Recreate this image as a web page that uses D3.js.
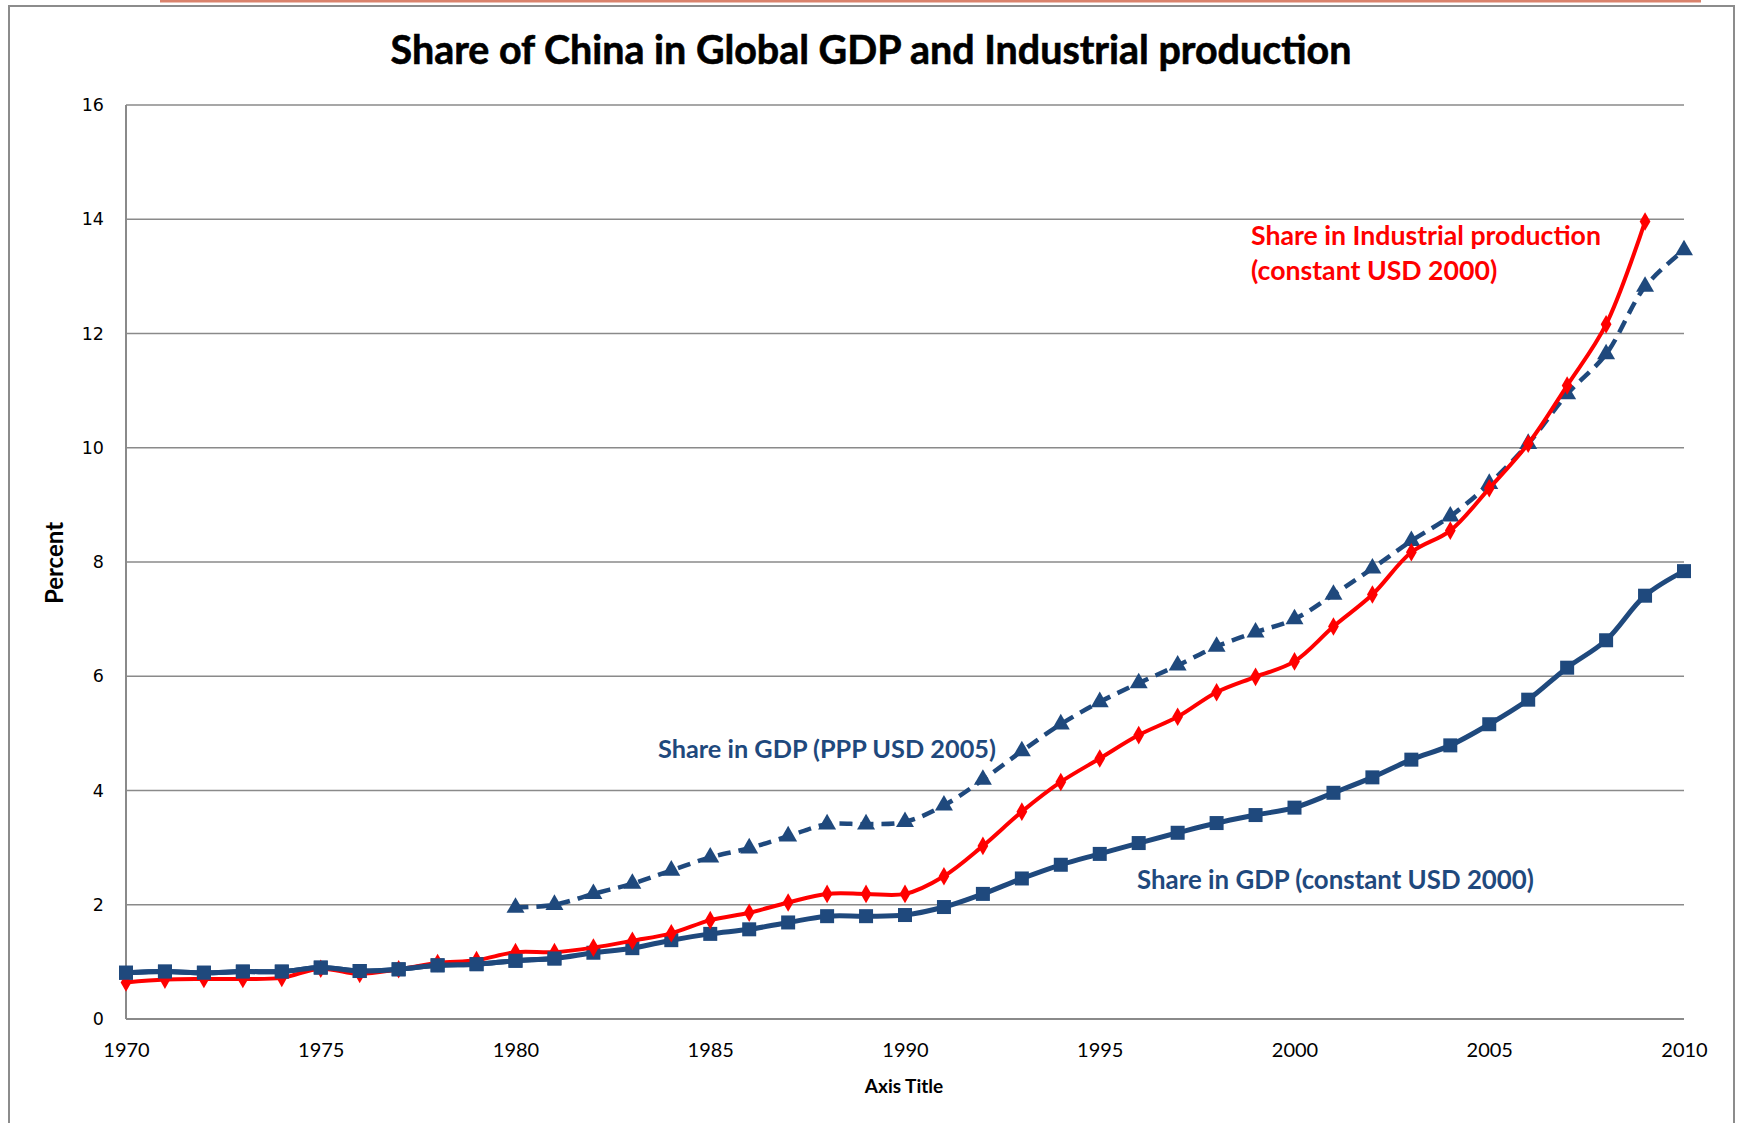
<!DOCTYPE html>
<html>
<head>
<meta charset="utf-8">
<script src="https://cdn.jsdelivr.net/npm/d3@7"></script>
<style>
  html, body { margin: 0; padding: 0; background: #fff; }
  svg { display: block; }
</style>
</head>
<body>
<script>
// ---------- DATA ----------
const years = d3.range(1970, 2011);
const industrialShare = [0.64,0.69,0.70,0.70,0.72,0.88,0.79,0.87,0.98,1.03,
  1.17,1.17,1.25,1.37,1.50,1.73,1.86,2.04,2.19,2.19,
  2.19,2.50,3.03,3.63,4.15,4.56,4.97,5.29,5.72,5.99,
  6.26,6.87,7.43,8.17,8.55,9.29,10.07,11.09,12.16,13.96,null];
const gdpConstantShare = [0.81,0.83,0.81,0.83,0.83,0.90,0.84,0.87,0.94,0.96,
  1.02,1.06,1.16,1.24,1.38,1.49,1.57,1.69,1.80,1.80,
  1.82,1.96,2.19,2.46,2.70,2.89,3.08,3.26,3.43,3.57,
  3.70,3.96,4.23,4.54,4.79,5.16,5.59,6.15,6.63,7.41,7.84];
const gdpPPPShare = [null,null,null,null,null,null,null,null,null,null,
  1.95,2.00,2.19,2.37,2.60,2.83,2.99,3.20,3.41,3.41,
  3.45,3.74,4.19,4.69,5.16,5.55,5.88,6.19,6.52,6.77,
  7.00,7.43,7.89,8.37,8.80,9.37,10.07,10.94,11.64,12.82,13.46];
const yTicks = [0,2,4,6,8,10,12,14,16];
const xTicks = [1970,1975,1980,1985,1990,1995,2000,2005,2010];
const titleText = "Share of China in Global GDP and Industrial production";
const xAxisTitle = "Axis Title";
const yAxisTitle = "Percent";
const labelIndustrial = ["Share in Industrial production", "(constant USD 2000)"];
const labelPPP = "Share in GDP (PPP USD 2005)";
const labelConstant = "Share in GDP (constant USD 2000)";

// ---------- LAYOUT ----------
const W = 1737, H = 1123;
const plot = {left: 126, right: 1684, top: 105, bottom: 1019};
const NAVY = "#1f497d", RED = "#ff0000", GRID = "#8a8a8a";

const svg = d3.select("body").append("svg").attr("width", W).attr("height", H);

// slide remnant at top + chart frame
svg.append("line").attr("x1", 160).attr("x2", 1701).attr("y1", 1).attr("y2", 1)
  .attr("stroke", "#d9826c").attr("stroke-width", 3);
svg.append("rect").attr("x", 9).attr("y", 6).attr("width", 1725).attr("height", 1140)
  .attr("fill", "none").attr("stroke", "#8c8c8c").attr("stroke-width", 2);

const x = d3.scaleLinear().domain([1970, 2010]).range([plot.left, plot.right]);
const y = d3.scaleLinear().domain([0, 16]).range([plot.bottom, plot.top]);

// gridlines
svg.append("g").selectAll("line").data(yTicks.filter(t => t > 0)).join("line")
  .attr("x1", plot.left).attr("x2", plot.right)
  .attr("y1", d => y(d)).attr("y2", d => y(d))
  .attr("stroke", GRID).attr("stroke-width", 1.5);

// axes lines
svg.append("line").attr("x1", plot.left).attr("x2", plot.right)
  .attr("y1", plot.bottom).attr("y2", plot.bottom).attr("stroke", GRID).attr("stroke-width", 2);
svg.append("line").attr("x1", plot.left).attr("x2", plot.left)
  .attr("y1", plot.top).attr("y2", plot.bottom).attr("stroke", GRID).attr("stroke-width", 2);

// y tick labels
const yAxis = d3.axisLeft(y).tickValues(yTicks).tickSize(0).tickPadding(22);
const gy = svg.append("g").attr("transform", `translate(${plot.left},0)`).call(yAxis);
gy.select(".domain").remove();
gy.selectAll("text").attr("font-family", "DejaVu Sans, Verdana, sans-serif")
  .attr("font-size", 17.5).attr("fill", "#000");

// x tick labels
const xAxis = d3.axisBottom(x).tickValues(xTicks).tickFormat(d3.format("d")).tickSize(0).tickPadding(24);
const gx = svg.append("g").attr("transform", `translate(0,${plot.bottom})`).call(xAxis);
gx.select(".domain").remove();
gx.selectAll("text").attr("font-family", "Lato, Carlito, sans-serif")
  .attr("font-size", 20).attr("fill", "#000");

// title
const title = svg.append("text").attr("x", 871).attr("y", 64).attr("text-anchor", "middle")
  .attr("font-family", "Lato, sans-serif").attr("font-weight", "bold")
  .attr("font-size", 36).attr("fill", "#000")
  .attr("stroke", "#000").attr("stroke-width", 0.6).text(titleText);
function fitWidth(sel, target) {
  const len = sel.node().getComputedTextLength();
  const fs = +sel.attr("font-size");
  sel.attr("font-size", (fs * target / len).toFixed(2));
}
fitWidth(title, 961);

// axis titles
svg.append("text").attr("x", 904).attr("y", 1093).attr("text-anchor", "middle")
  .attr("font-family", "Lato, sans-serif").attr("font-weight", "bold")
  .attr("font-size", 19).attr("fill", "#000").text(xAxisTitle);
svg.append("text").attr("transform", "translate(63,563) rotate(-90)").attr("text-anchor", "middle")
  .attr("font-family", "Lato, sans-serif").attr("font-weight", "bold")
  .attr("font-size", 24).attr("fill", "#000").text(yAxisTitle);

// lines
const line = d3.line()
  .x(d => x(d.year)).y(d => y(d.v))
  .curve(d3.curveCatmullRom.alpha(0.5));

function series(vals) { return years.map((yr, i) => ({year: yr, v: vals[i]})).filter(d => d.v != null); }

const sPPP = series(gdpPPPShare), sCon = series(gdpConstantShare), sInd = series(industrialShare);

// PPP dashed
svg.append("path").datum(sPPP).attr("d", line).attr("fill", "none")
  .attr("stroke", NAVY).attr("stroke-width", 4.5).attr("stroke-dasharray", "13,8");
svg.append("g").selectAll("path").data(sPPP).join("path")
  .attr("d", d3.symbol().type(d3.symbolTriangle).size(140))
  .attr("transform", d => `translate(${x(d.year)},${y(d.v)})`)
  .attr("fill", NAVY);

// GDP constant
svg.append("path").datum(sCon).attr("d", line).attr("fill", "none")
  .attr("stroke", NAVY).attr("stroke-width", 5);
svg.append("g").selectAll("rect").data(sCon).join("rect")
  .attr("x", d => x(d.year) - 7).attr("y", d => y(d.v) - 7)
  .attr("width", 14).attr("height", 14).attr("fill", NAVY);

// Industrial
svg.append("path").datum(sInd).attr("d", line).attr("fill", "none")
  .attr("stroke", RED).attr("stroke-width", 4);
svg.append("g").selectAll("path").data(sInd).join("path")
  .attr("d", d3.symbol().type(d3.symbolDiamond).size(100))
  .attr("transform", d => `translate(${x(d.year)},${y(d.v)})`)
  .attr("fill", RED);

// navy constant-GDP drawn over red in the early years, as in the reference
const early = sCon.filter(d => d.year <= 1981);
svg.append("path").datum(early).attr("d", line).attr("fill", "none")
  .attr("stroke", NAVY).attr("stroke-width", 5);
svg.append("g").selectAll("rect").data(early).join("rect")
  .attr("x", d => x(d.year) - 7).attr("y", d => y(d.v) - 7)
  .attr("width", 14).attr("height", 14).attr("fill", NAVY);

// annotations
const a1 = svg.append("text").attr("x", 1251).attr("y", 245)
  .attr("font-family", "Lato, sans-serif").attr("font-weight", "bold")
  .attr("font-size", 25).attr("fill", RED).text(labelIndustrial[0]);
fitWidth(a1, 350);
svg.append("text").attr("x", 1251).attr("y", 280)
  .attr("font-family", "Lato, sans-serif").attr("font-weight", "bold")
  .attr("font-size", a1.attr("font-size")).attr("fill", RED).text(labelIndustrial[1]);

const a2 = svg.append("text").attr("x", 658).attr("y", 758)
  .attr("font-family", "Lato, sans-serif").attr("font-weight", "bold")
  .attr("font-size", 24).attr("fill", NAVY).text(labelPPP);
fitWidth(a2, 338);

const a3 = svg.append("text").attr("x", 1137).attr("y", 889)
  .attr("font-family", "Lato, sans-serif").attr("font-weight", "bold")
  .attr("font-size", 24).attr("fill", NAVY).text(labelConstant);
fitWidth(a3, 397);
</script>
</body>
</html>
